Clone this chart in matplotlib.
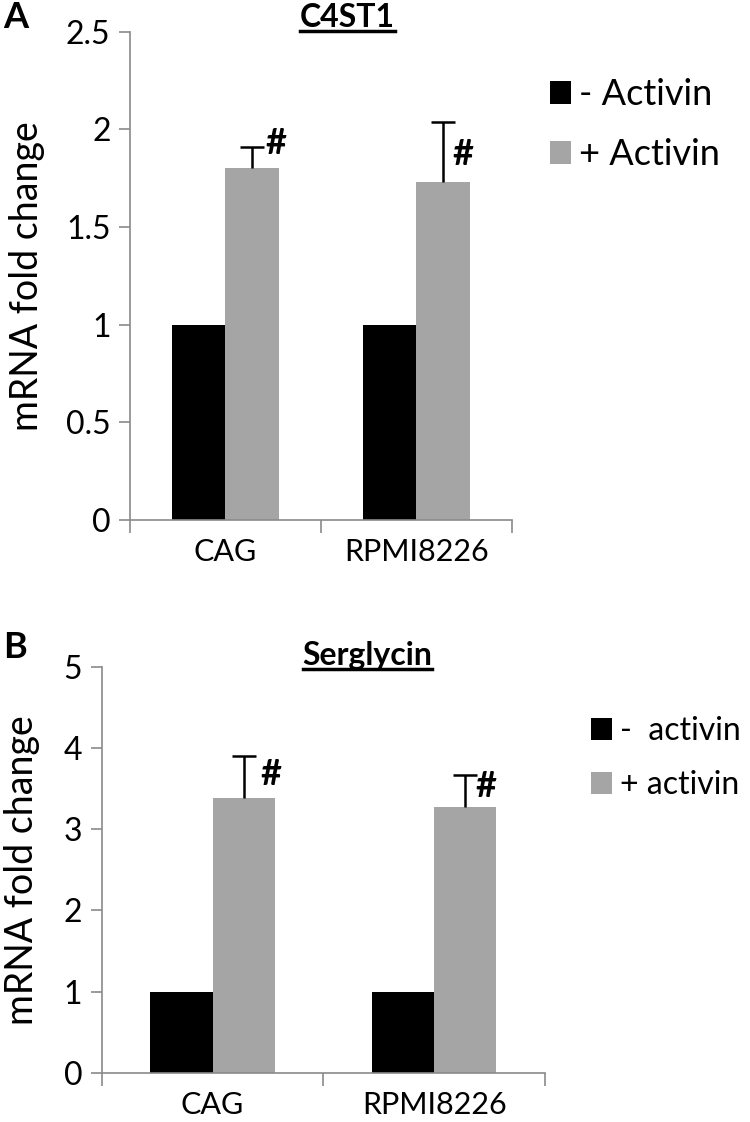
import numpy as np
import matplotlib.pyplot as plt
from matplotlib.lines import Line2D

plt.rcParams['font.family'] = ['Lato', 'DejaVu Sans']

cells = ['CAG', 'RPMI8226']

# panel A - C4ST1
c4st1_minus = [1.0, 1.0]
c4st1_plus = [1.80, 1.73]
c4st1_err = [0.11, 0.31]
c4st1_hash_y = [1.93, 1.87]

# panel B - Serglycin
sgn_minus = [1.0, 1.0]
sgn_plus = [3.38, 3.27]
sgn_err = [0.52, 0.40]
sgn_hash_y = [3.67, 3.53]

black = '#000000'
grey = '#a5a5a5'
spine = '#8a8a8a'

fig = plt.figure(figsize=(7.5, 11.22), dpi=100)


def underline_title(text, x, y):
    t = fig.text(x, y, text, fontsize=23, fontweight='bold', ha='center', va='center')
    fig.canvas.draw()
    bb = t.get_window_extent().transformed(fig.transFigure.inverted())
    fig.add_artist(Line2D([bb.x0, bb.x1], [bb.y0 + 0.001, bb.y0 + 0.001],
                          color='black', lw=2.5, transform=fig.transFigure))


def panel(ax, minus, plus, err, hash_y, hash_dx, ymax, ystep, labels):
    x = np.arange(len(cells)) + 0.5
    w = 0.28
    ax.bar(x - w / 2, minus, w, color=black, label=labels[0])
    ax.bar(x + w / 2, plus, w, color=grey, label=labels[1])
    eb = ax.errorbar(x + w / 2, plus, yerr=[np.zeros(len(err)), err], fmt='none',
                     ecolor='black', elinewidth=1.8, capsize=8.3, capthick=1.8)
    eb.lines[1][0].set_visible(False)  # no cap at the bar top
    for xi, hy, dx in zip(x, hash_y, hash_dx):
        ax.text(xi + w / 2 + dx, hy, '#', fontsize=26, fontweight='bold',
                ha='left', va='center')
    ticks = np.arange(0, ymax + ystep / 2, ystep)
    ax.set_xlim(0, len(cells))
    ax.set_ylim(0, ymax)
    ax.set_yticks(ticks)
    ax.set_yticklabels([('%g' % v) for v in ticks])
    ax.set_xticks(x)
    ax.set_xticklabels(cells)
    ax.set_xticks(np.arange(len(cells) + 1), minor=True)
    ax.tick_params(axis='x', which='major', length=0, labelsize=22, pad=13)
    ax.tick_params(axis='x', which='minor', length=9, width=1.2, color=spine, direction='out')
    ax.tick_params(axis='y', length=8, width=1.2, color=spine, labelsize=23, pad=6)
    for s in ['top', 'right']:
        ax.spines[s].set_visible(False)
    for s in ['left', 'bottom']:
        ax.spines[s].set_color(spine)
        ax.spines[s].set_linewidth(1.2)
    ax.set_ylabel('mRNA fold change', fontsize=27, va='center')


axA = fig.add_axes([0.1733, 0.5365, 0.5093, 0.4352])
panel(axA, c4st1_minus, c4st1_plus, c4st1_err, c4st1_hash_y, [0.07, 0.05], 2.5, 0.5,
      ['- Activin', '+ Activin'])
axA.yaxis.set_label_coords(-0.27, 0.5)
hA, lA = axA.get_legend_handles_labels()
fig.legend(hA, lA, loc='center left', bbox_to_anchor=(0.733, 0.889), frameon=False,
           fontsize=26, handlelength=0.6, handleheight=0.6, handletextpad=0.22,
           labelspacing=0.75, borderpad=0, borderaxespad=0)

axB = fig.add_axes([0.1356, 0.0439, 0.591, 0.3619])
panel(axB, sgn_minus, sgn_plus, sgn_err, sgn_hash_y, [0.075, 0.045], 5, 1,
      ['-  activin', '+ activin'])
axB.yaxis.set_label_coords(-0.18, 0.5)
hB, lB = axB.get_legend_handles_labels()
fig.legend(hB, lB, loc='center left', bbox_to_anchor=(0.7876, 0.3244), frameon=False,
           fontsize=23, handlelength=0.68, handleheight=0.68, handletextpad=0.25,
           labelspacing=0.75, borderpad=0, borderaxespad=0)

fig.text(0.004, 0.984, 'A', fontsize=26, fontweight='bold', ha='left', va='center')
fig.text(0.004, 0.4225, 'B', fontsize=26, fontweight='bold', ha='left', va='center')
underline_title('C4ST1', 0.463, 0.984)
underline_title('Serglycin', 0.49, 0.416)

fig.savefig('out.png', dpi=100)
